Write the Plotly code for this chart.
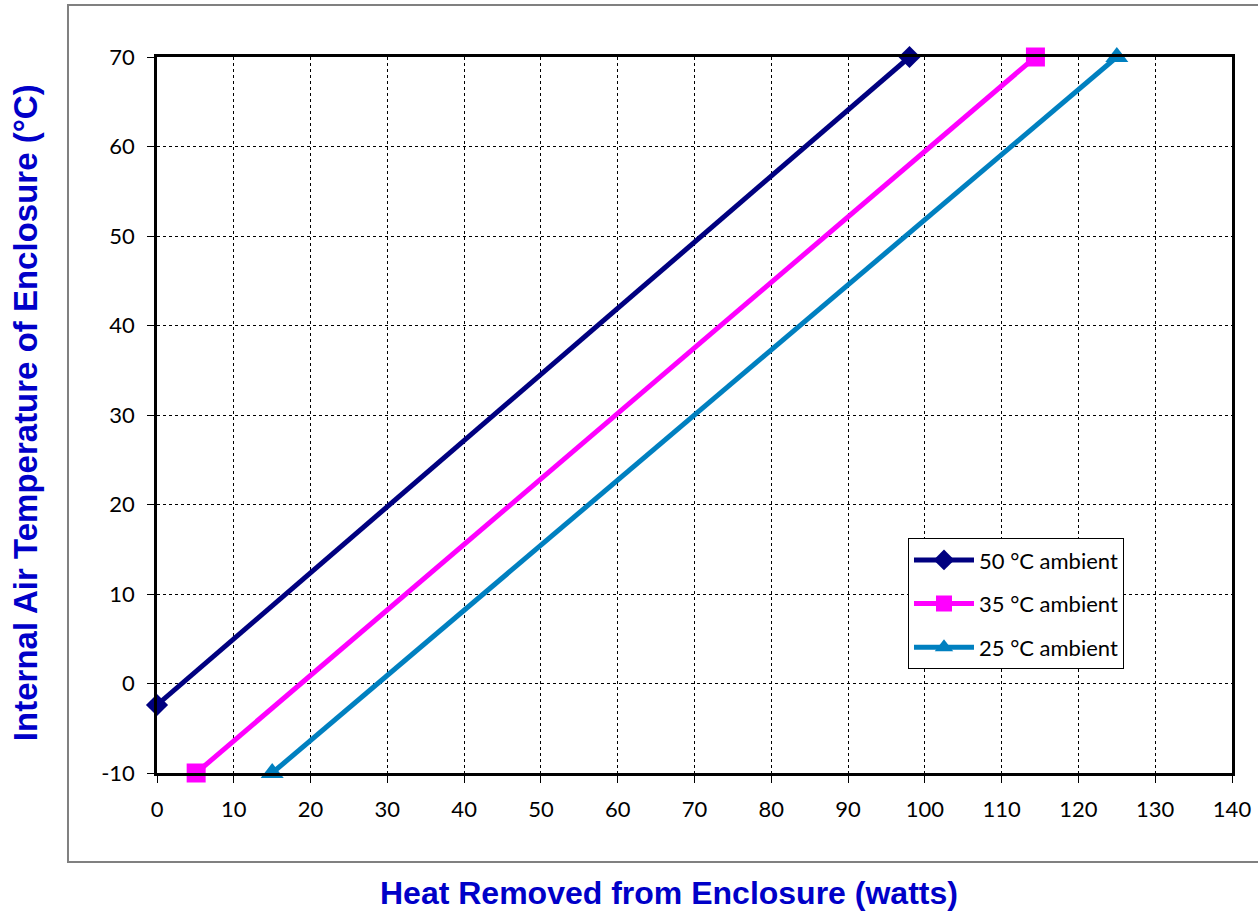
import plotly.graph_objects as go

series_names = ["50 °C ambient", "35 °C ambient", "25 °C ambient"]
heat_50 = [0, 98]
temp_50 = [-2.4, 70]
heat_35 = [5.1, 114.4]
temp_35 = [-10, 70]
heat_25 = [15, 125]
temp_25 = [-10, 70]

x_ticks = list(range(0, 141, 10))
y_ticks = list(range(-10, 71, 10))
y_tick_labels = [str(v) for v in y_ticks]

colors = ["#000080", "#FF00FF", "#0080C0"]
symbols = ["diamond", "square", "triangle-up"]
sizes = [17, 19, 20]

fig = go.Figure()
for i, (name, xs, ys, c, s, sz) in enumerate(zip(series_names, [heat_50, heat_35, heat_25],
                                  [temp_50, temp_35, temp_25], colors, symbols, sizes)):
    fig.add_trace(go.Scatter(x=xs, y=ys, name=name, mode="lines+markers",
                             legendgroup=f"g{i}",
                             line=dict(color=c, width=5),
                             marker=dict(symbol=s, size=sz, color=c),
                             cliponaxis=False))

tick_font = dict(family="Lato, 'Open Sans', sans-serif", size=22, color="black")
axis_common = dict(showline=True, linecolor="black", linewidth=2.5, mirror=True,
                   showgrid=True, gridcolor="black", gridwidth=1, griddash="dot",
                   ticks="outside", ticklen=7, tickcolor="black", tickwidth=1,
                   zeroline=False, tickfont=tick_font, automargin=False)

fig.update_xaxes(range=[0, 140], tickvals=x_ticks, ticklabelstandoff=8, **axis_common)
fig.update_yaxes(range=[-10, 70], tickvals=y_ticks, ticktext=y_tick_labels,
                 ticklabelstandoff=8, **axis_common)

title_color = "#0000C8"
fig.add_annotation(text="Heat Removed from Enclosure (watts)", xref="paper", yref="paper",
                   x=0.476, y=-0.1676, xanchor="center", yanchor="middle", showarrow=False,
                   font=dict(family="Liberation Sans, Arial, sans-serif", size=32,
                             color=title_color, weight="bold"))
fig.add_annotation(text="Internal Air Temperature of Enclosure (°C)", xref="paper", yref="paper",
                   x=-0.1228, y=0.504, xanchor="center", yanchor="middle", showarrow=False,
                   textangle=-90,
                   font=dict(family="Liberation Sans, Arial, sans-serif", size=33,
                             color=title_color, weight="bold"))

fig.add_shape(type="rect", xref="paper", yref="paper", x0=-0.0828, x1=1.03,
              y0=-0.1243, y1=1.0726, line=dict(color="#808080", width=2), layer="below")

fig.update_layout(
    width=1258, height=911,
    margin=dict(l=157, r=26, t=57, b=138, autoexpand=False),
    paper_bgcolor="white", plot_bgcolor="white",
    showlegend=True,
    legend=dict(x=0.6986, y=0.328, xanchor="left", yanchor="top",
                bordercolor="black", borderwidth=1, bgcolor="white",
                font=dict(family="Lato, 'Open Sans', sans-serif", size=22, color="black"),
                itemwidth=60, tracegroupgap=12),
)

fig.write_html("out.html", config={"displayModeBar": False},
               post_script="document.body.style.margin='0';")
